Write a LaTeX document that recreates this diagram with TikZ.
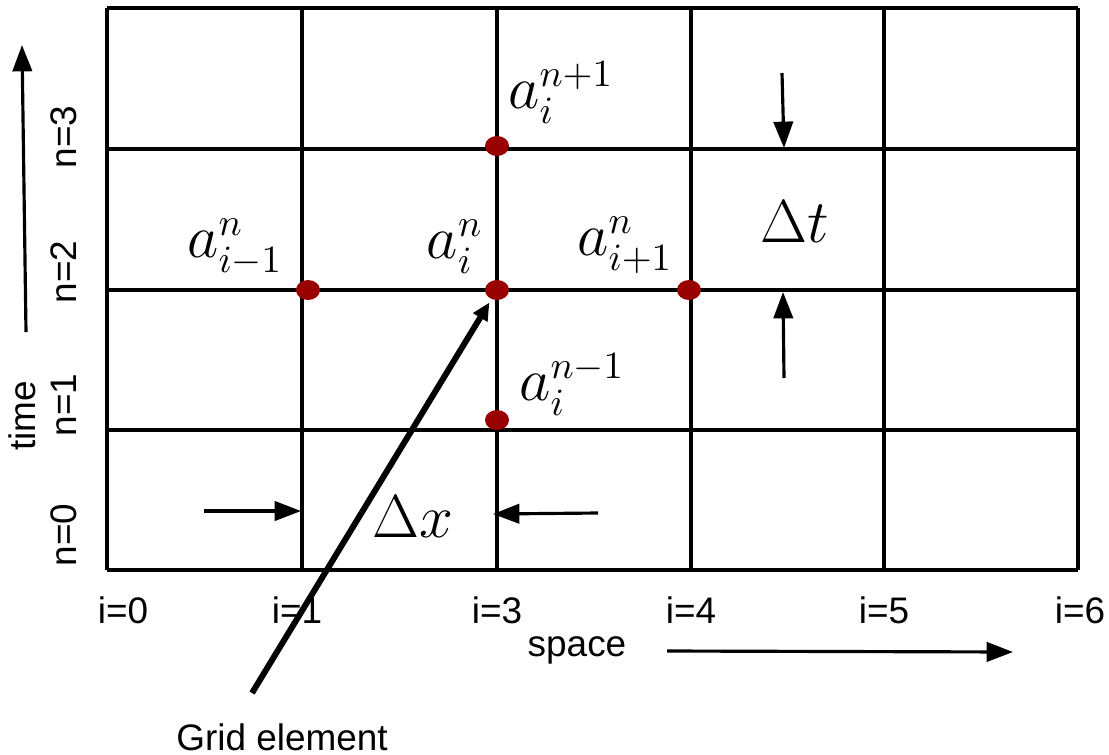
\documentclass[tikz,border=0pt]{standalone}
\usepackage[no-math]{fontspec}
\setmainfont{Liberation Sans}
\usepackage{tikz}
\usetikzlibrary{arrows.meta,shapes.geometric}
\definecolor{dotred}{HTML}{990000}
\tikzset{
  ar/.style={-{Triangle[length=7.5pt,width=5.5pt]},line width=0.9pt},
  gridln/.style={line width=0.9pt},
  lbl/.style={font=\fontsize{10.5}{12}\selectfont,inner sep=0pt},
  mlbl/.style={font=\fontsize{16}{19}\selectfont,inner sep=0pt},
  dlbl/.style={font=\fontsize{18}{21}\selectfont,inner sep=0pt},
  pt/.style={ellipse,fill=dotred,minimum width=0.24cm,minimum height=0.2cm,inner sep=0pt}
}

\begin{document}
\begin{tikzpicture}[x=0.01cm,y=-0.01cm]
\useasboundingbox (0,0) rectangle (1109,754);
% grid
\foreach \gx in {107,302,497,691,884,1078}
  \draw[gridln] (\gx,8) -- (\gx,570);
\foreach \gy in {8,149,290,430,570}
  \draw[gridln] (107,\gy) -- (1078,\gy);
% stencil points
\node[pt] (aup) at (497,146) {};
\node[pt] (aleft) at (308,290) {};
\node[pt] (amid) at (497,290) {};
\node[pt] (aright) at (689,290) {};
\node[pt] (adown) at (497,420) {};
\node[mlbl] (lup) at (561,93) {$a_i^{n+1}$};
\node[mlbl] (lleft) at (235,247) {$a_{i-1}^{n}$};
\node[mlbl] (lmid) at (455,247) {$a_i^{n}$};
\node[mlbl] (lright) at (625,245) {$a_{i+1}^{n}$};
\node[mlbl] (ldown) at (572,385) {$a_i^{n-1}$};
% step sizes
\node[dlbl] (dt) at (795,222) {$\Delta t$};
\node[dlbl] (dx) at (413,517) {$\Delta x$};
\coordinate (dta) at (782,73);
\coordinate (dtb) at (784,148);
\coordinate (dtc) at (784,378);
\coordinate (dtd) at (783,292);
\draw[ar] (dta) -- (dtb);
\draw[ar] (dtc) -- (dtd);
\coordinate (dxa) at (204,511);
\coordinate (dxb) at (301,511);
\coordinate (dxc) at (598,513);
\coordinate (dxd) at (493,514);
\draw[ar] (dxa) -- (dxb);
\draw[ar] (dxc) -- (dxd);
% axes
\foreach \lx/\li in {123/0,297/1,497/3,691/4,884/5,1080/6}
  \node[lbl] (i\li) at (\lx,610) {i=\li};
\foreach \ly/\ln in {535/0,405/1,272/2,137/3}
  \node[lbl,rotate=90] (n\ln) at (64,\ly) {n=\ln};
\node[lbl,rotate=90] (time) at (22,416) {time};
\node[lbl] (space) at (577,650) {space};
\coordinate (ta) at (26,332);
\coordinate (tb) at (22,45);
\draw[ar] (ta) -- (tb);
\coordinate (sa) at (667,651);
\coordinate (sb) at (1013,652);
\draw[ar] (sa) -- (sb);
% grid element pointer
\node[lbl] (gel) at (282,737) {Grid element};
\coordinate (gea) at (252,693);
\draw[-{Triangle[length=5pt,width=4.5pt]},line width=1.7pt,shorten >=1pt] (gea) -- (amid);
\end{tikzpicture}
\end{document}
